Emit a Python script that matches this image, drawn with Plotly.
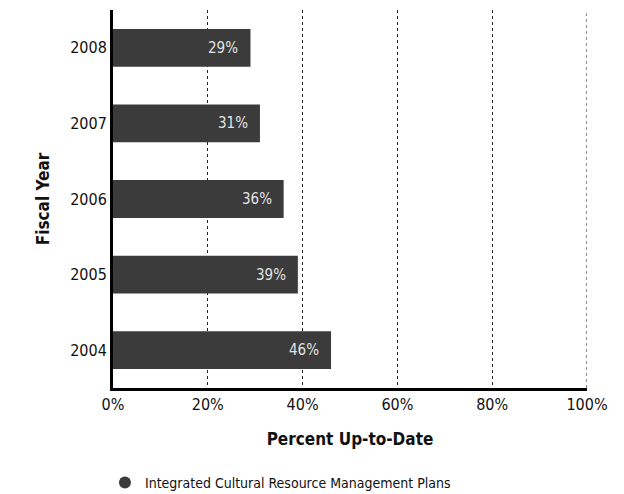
import plotly.graph_objects as go

years = ["2004", "2005", "2006", "2007", "2008"]
values = [46, 39, 36, 31, 29]
labels = ["46%", "39%", "36%", "31%", "29%"]
series_name = "Integrated Cultural Resource Management Plans"
x_ticks = [0, 20, 40, 60, 80, 100]
x_ticktext = ["0%", "20%", "40%", "60%", "80%", "100%"]

FONT = "DejaVu Sans Condensed, Liberation Sans Narrow, sans-serif"
BAR = "#3b3b3b"

fig = go.Figure()
fig.add_trace(go.Bar(
    y=years, x=values, orientation="h",
    marker=dict(color=BAR, line=dict(width=0)),
    width=0.5,
    showlegend=False, hoverinfo="skip",
))
fig.add_trace(go.Scatter(
    x=[None], y=[None], mode="markers", name=series_name,
    marker=dict(symbol="circle", size=14, color=BAR),
))

for i, (xv, lab) in enumerate(zip(values, labels)):
    fig.add_annotation(x=xv, y=i, xref="x", yref="y", text=lab, showarrow=False,
                       xanchor="right", xshift=-10,
                       font=dict(family=FONT, size=15, color="#e2e2e2"))

fig.add_shape(type="line", xref="x", yref="paper", x0=100, x1=100, y0=0, y1=1,
              line=dict(color="#222", width=1, dash="dot"), layer="below")

fig.update_layout(
    width=624, height=494,
    margin=dict(l=105, r=45, t=2, b=114),
    paper_bgcolor="white", plot_bgcolor="white",
    font=dict(family=FONT, size=15, color="#111"),
    xaxis=dict(
        range=[0, 100], tickvals=x_ticks, ticktext=x_ticktext,
        showgrid=True, gridcolor="#222", griddash="dot", gridwidth=1,
        zeroline=False, showline=True, linecolor="black", linewidth=3,
        ticks="", tickfont=dict(size=16), automargin=False,
        title=dict(text="<b>Percent Up-to-Date</b>", font=dict(size=17), standoff=20),
        fixedrange=True,
    ),
    yaxis=dict(
        type="category",
        categoryorder="array", categoryarray=years, range=[-0.5, 4.5],
        showgrid=False, zeroline=False, showline=True, linecolor="black", linewidth=3,
        ticks="", tickfont=dict(size=16), automargin=False,
        title=dict(text="<b>Fiscal Year</b>", font=dict(size=17), standoff=17),
    ),
    legend=dict(
        orientation="h", x=-0.017, xref="paper", y=-0.251, yanchor="middle",
        font=dict(size=14), itemsizing="constant",
    ),
)

fig.write_html("out.html")
